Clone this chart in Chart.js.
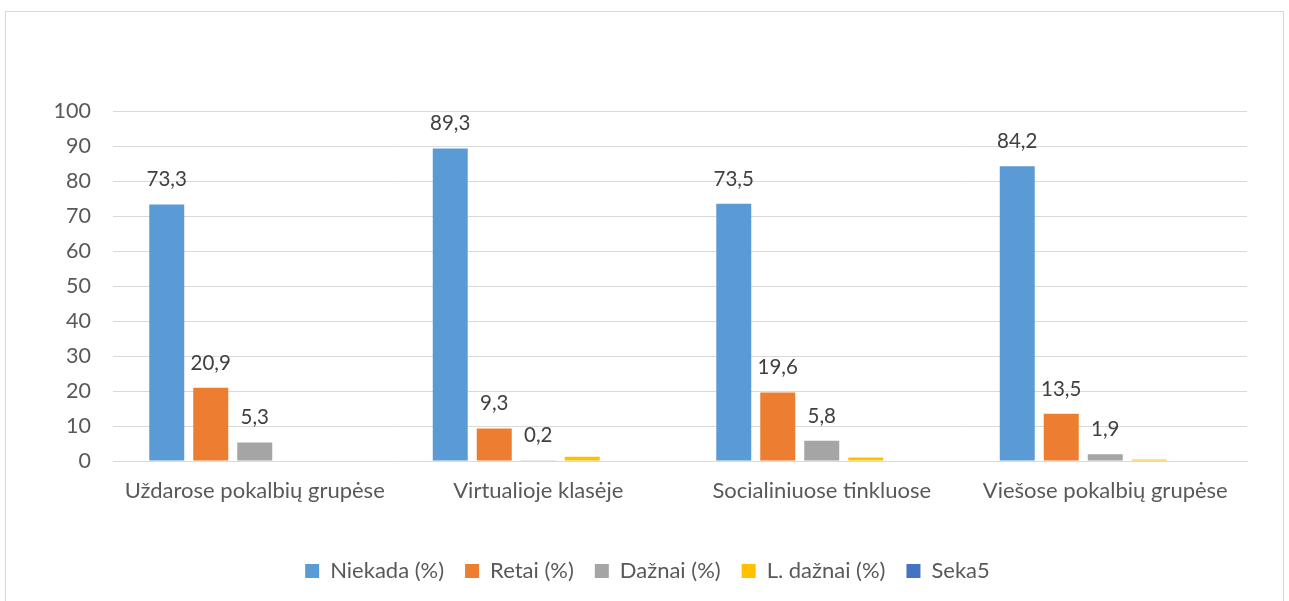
<!DOCTYPE html>
<html>
<head>
<meta charset="utf-8">
<script src="https://cdn.jsdelivr.net/npm/chart.js@4/dist/chart.umd.min.js"></script>
<style>
  body { margin:0; background:#fff; }
  #frame { position:absolute; left:5px; top:11px; width:1277px; height:640px; border:1px solid #d9d9d9; }
  #wrap  { position:absolute; left:0; top:0; width:1289px; height:601px; }
</style>
</head>
<body>
<div id="frame"></div>
<div id="wrap"><canvas id="c"></canvas></div>
<script>
/* --- data --- */
const categories = ['Uždarose pokalbių grupėse', 'Virtualioje klasėje', 'Socialiniuose tinkluose', 'Viešose pokalbių grupėse'];
const niekada  = [73.3, 89.3, 73.5, 84.2];
const retai    = [20.9, 9.3, 19.6, 13.5];
const daznai   = [5.3, 0.2, 5.8, 1.9];
const lDaznai  = [0, 1.2, 1.0, 0.4];
const seka5    = [null, null, null, null];
const yTicks   = [0, 10, 20, 30, 40, 50, 60, 70, 80, 90, 100];

const FONT = 'Lato, "Open Sans", sans-serif';
const fmt = v => v.toFixed(1).replace('.', ',');

/* labels above the first three series only */
const valueLabels = {
  id: 'valueLabels',
  afterDatasetsDraw(chart) {
    const ctx = chart.ctx;
    ctx.save();
    ctx.font = '20.5px ' + FONT;
    ctx.fillStyle = '#404040';
    ctx.textAlign = 'center';
    ctx.textBaseline = 'alphabetic';
    [0, 1, 2].forEach(di => {
      chart.getDatasetMeta(di).data.forEach((bar, i) => {
        const v = chart.data.datasets[di].data[i];
        if (v == null) return;
        ctx.fillText(fmt(v), bar.x, bar.y - 18);
      });
    });
    ctx.restore();
  }
};

const bar = (label, data, color) => ({
  label, data, backgroundColor: color,
  categoryPercentage: 0.776, barPercentage: 0.795
});

new Chart(document.getElementById('c'), {
  type: 'bar',
  data: {
    labels: categories,
    datasets: [
      bar('Niekada (%)', niekada, '#5b9bd5'),
      bar('Retai (%)',   retai,   '#ed7d31'),
      bar('Dažnai (%)',  daznai,  '#a5a5a5'),
      bar('L. dažnai (%)', lDaznai, '#ffc000'),
      bar('Seka5',       seka5,   '#4472c4')
    ]
  },
  plugins: [valueLabels],
  options: {
    responsive: true,
    maintainAspectRatio: false,
    animation: false,
    layout: { padding: { top: 111, right: 42, left: 48, bottom: 9 } },
    plugins: {
      tooltip: { enabled: false },
      legend: {
        position: 'bottom',
        labels: {
          boxWidth: 14, boxHeight: 14, padding: 21,
          color: '#595959', font: { family: FONT, size: 22 }
        }
      }
    },
    scales: {
      x: {
        grid: { display: false },
        border: { display: true, color: '#d9d9d9', width: 1 },
        ticks: { color: '#595959', font: { family: FONT, size: 22 }, padding: 9, maxRotation: 0 },
        afterFit: s => { s.height = 78; }
      },
      y: {
        min: 0, max: 100,
        afterBuildTicks: s => { s.ticks = yTicks.map(v => ({ value: v })); },
        grid: { color: '#d9d9d9', drawTicks: false },
        border: { display: false },
        ticks: { color: '#595959', font: { family: FONT, size: 21.5 }, padding: 22 },
        afterFit: s => { s.width = 65; }
      }
    }
  }
});
</script>
</body>
</html>
